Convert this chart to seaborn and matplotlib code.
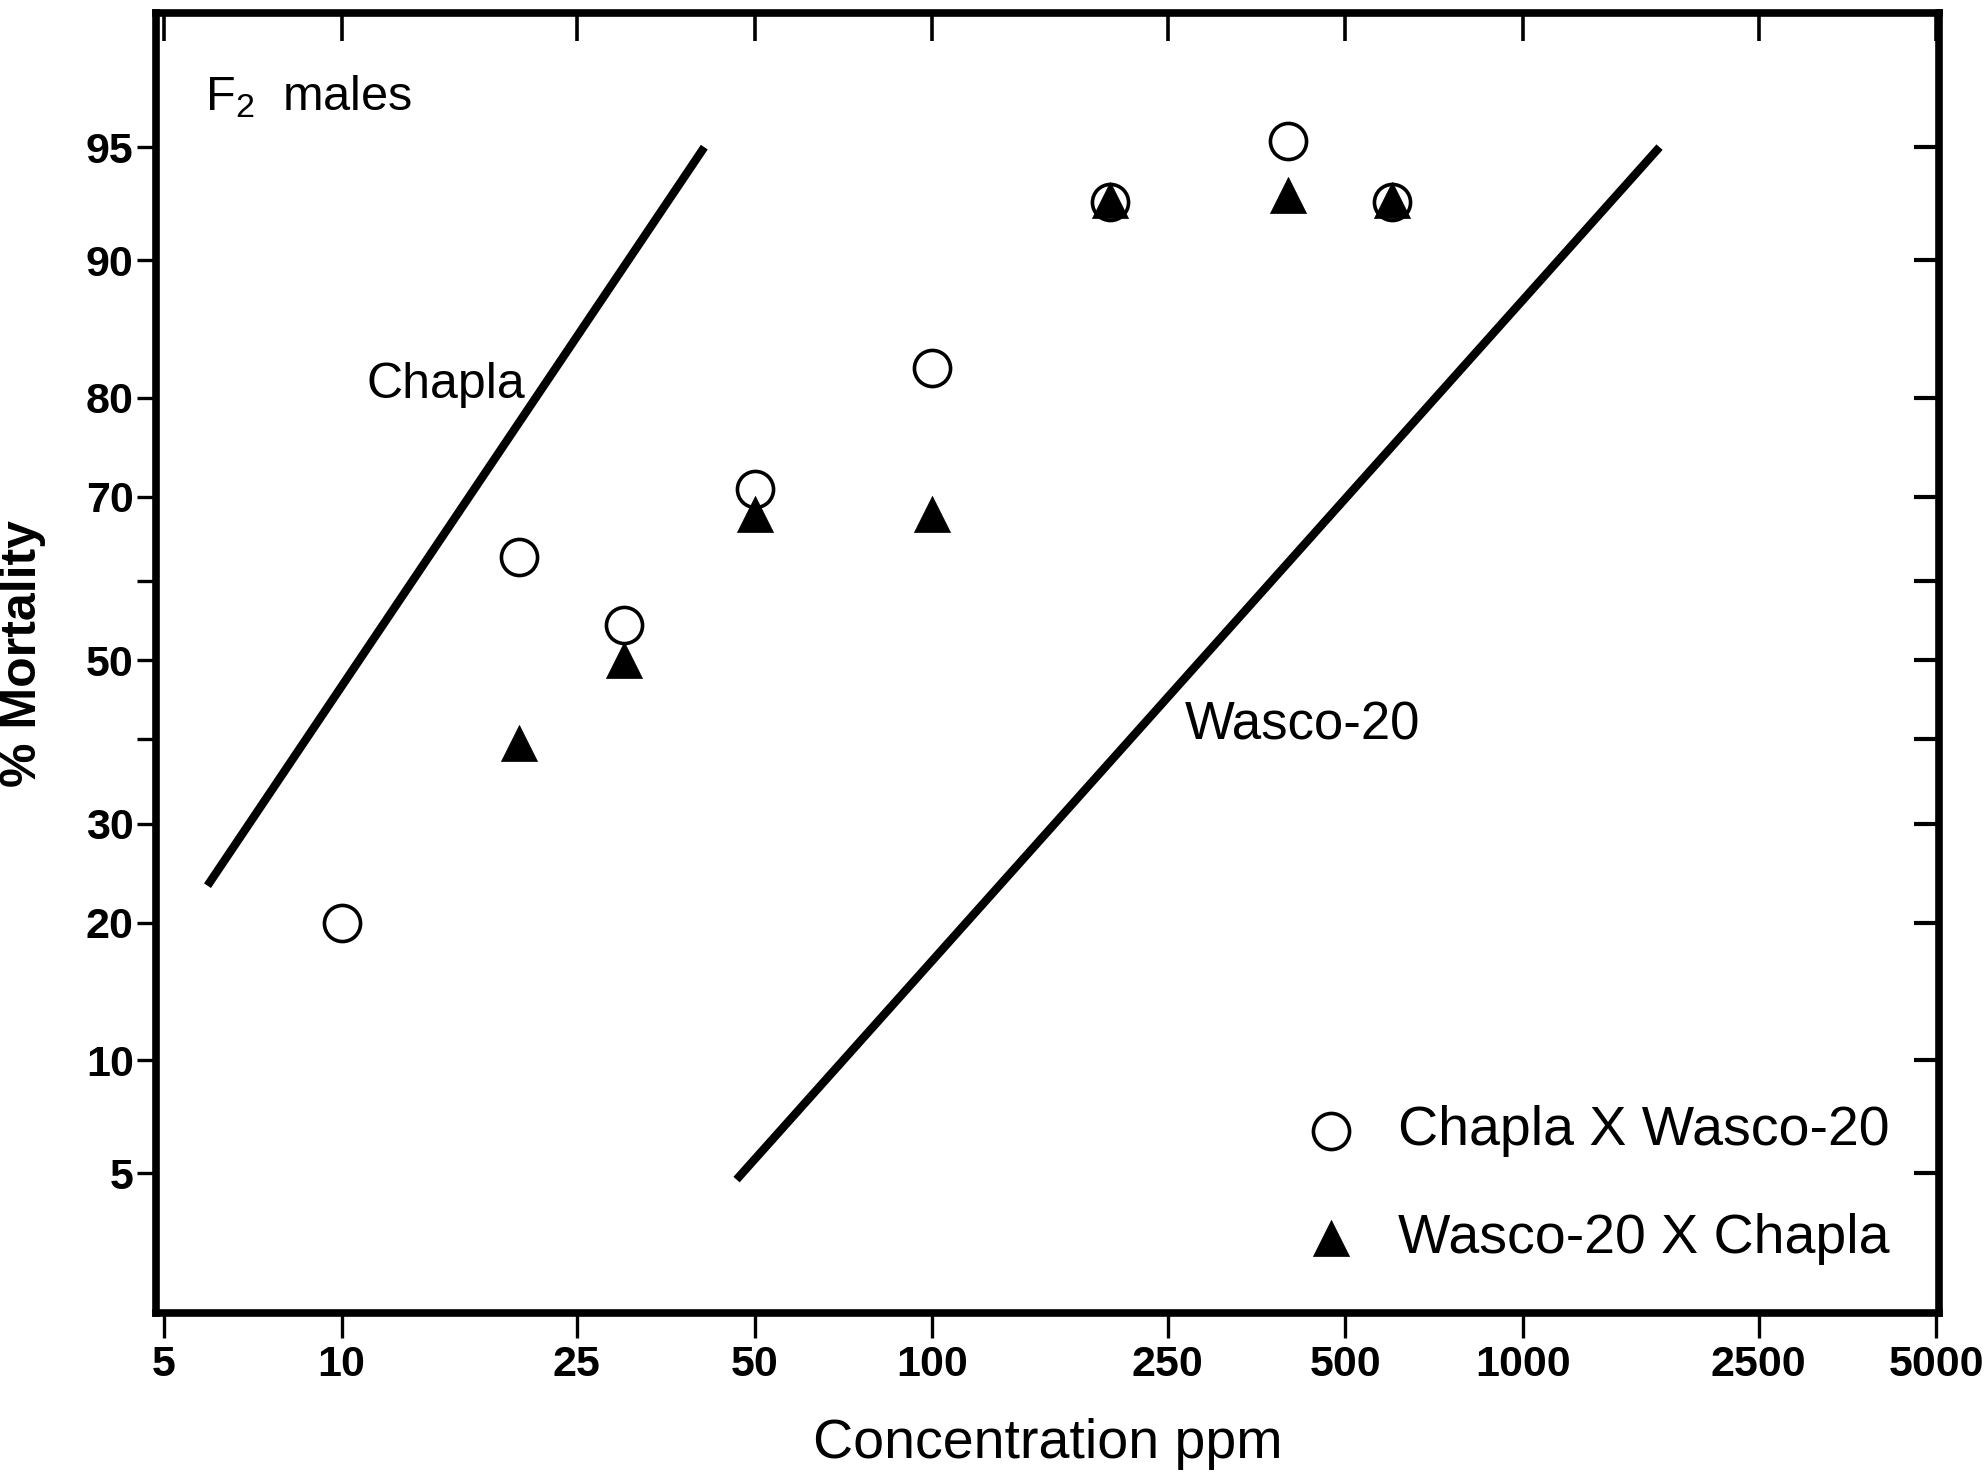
import numpy as np
import matplotlib
matplotlib.use("Agg")
import matplotlib.pyplot as plt
import seaborn as sns
from statistics import NormalDist
from matplotlib.ticker import NullLocator, FixedFormatter, FixedLocator

# ---------------- data ----------------
conc_chapla_x_wasco = [10, 20, 30, 50, 100, 200, 400, 600]
mort_chapla_x_wasco = [20, 63, 54.5, 70.8, 82.6, 92.9, 95.2, 92.9]

conc_wasco_x_chapla = [20, 30, 50, 100, 200, 400, 600]
mort_wasco_x_chapla = [39.5, 50, 68, 68, 93.0, 93.2, 93.0]

chapla_line_conc = [5.93, 41.1]
chapla_line_mort = [23.5, 95]
wasco_line_conc = [46.6, 1700]
wasco_line_mort = [4.8, 95]

x_ticks = [5, 10, 25, 50, 100, 250, 500, 1000, 2500, 5000]
x_tick_labels = ["5", "10", "25", "50", "100", "250", "500", "1000", "2500", "5000"]
y_ticks = [5, 10, 20, 30, 40, 50, 60, 70, 80, 90, 95]
y_tick_labels = ["5", "10", "20", "30", "", "50", "", "70", "80", "90", "95"]

x_limits = (4.85, 5050)
y_limits = (1.82, 98.1)

# ---------------- probit scale ----------------
_nd = NormalDist()
_ppf = np.vectorize(lambda p: _nd.inv_cdf(p) if np.isfinite(p) else np.nan, otypes=[float])
_cdf = np.vectorize(lambda z: _nd.cdf(z) if not np.isnan(z) else np.nan, otypes=[float])


def to_probit(p):
    p = np.clip(np.asarray(p, dtype=float) / 100.0, 1e-9, 1 - 1e-9)
    return _ppf(p)


def from_probit(z):
    return _cdf(np.asarray(z, dtype=float)) * 100.0


# ---------------- style ----------------
sns.set_style("white")
plt.rcParams["font.family"] = ["Liberation Sans", "DejaVu Sans"]
plt.rcParams["mathtext.default"] = "regular"
for key in ["text.color", "axes.labelcolor", "xtick.color", "ytick.color", "axes.edgecolor"]:
    plt.rcParams[key] = "black"

fig = plt.figure(figsize=(19.86, 14.78), dpi=100)
ax = fig.add_axes([0.0785, 0.1116, 0.8978, 0.8796])

ax.set_xscale("log")
ax.set_yscale("function", functions=(to_probit, from_probit))
ax.set_xlim(*x_limits)
ax.set_ylim(*y_limits)

# fitted lines
ax.plot(chapla_line_conc, chapla_line_mort, color="black", lw=6, solid_capstyle="butt", zorder=2)
ax.plot(wasco_line_conc, wasco_line_mort, color="black", lw=6, solid_capstyle="butt", zorder=2)

# points
sns.scatterplot(x=conc_chapla_x_wasco, y=mort_chapla_x_wasco, marker="o", s=26 ** 2,
                color="white", edgecolor="black", linewidth=2.6,
                label="Chapla X Wasco-20", ax=ax, zorder=3)
sns.scatterplot(x=conc_wasco_x_chapla, y=mort_wasco_x_chapla, marker="^", s=26 ** 2,
                color="black", edgecolor="black", linewidth=0.5,
                label="Wasco-20 X Chapla", ax=ax, zorder=4)

ax.set_xlim(*x_limits)
ax.set_ylim(*y_limits)

# ticks
ax.xaxis.set_major_locator(FixedLocator(x_ticks))
ax.xaxis.set_major_formatter(FixedFormatter(x_tick_labels))
ax.xaxis.set_minor_locator(NullLocator())
ax.yaxis.set_major_locator(FixedLocator(y_ticks))
ax.yaxis.set_major_formatter(FixedFormatter(y_tick_labels))
ax.yaxis.set_minor_locator(NullLocator())
ax.tick_params(axis="x", direction="out", length=18, width=2.4, pad=5,
               labelsize=31, bottom=True, top=False)
ax.tick_params(axis="y", direction="out", length=14, width=2.4, pad=2,
               labelsize=31, left=True, right=False)
for lab in ax.get_xticklabels() + ax.get_yticklabels():
    lab.set_fontweight("bold")

for sp in ax.spines.values():
    sp.set_linewidth(5.5)
    sp.set_color("black")

# inward ticks on top and right
ax_r = ax.twinx()
ax_r.set_yscale("function", functions=(to_probit, from_probit))
ax_r.set_ylim(*y_limits)
ax_r.yaxis.set_major_locator(FixedLocator(y_ticks))
ax_r.yaxis.set_minor_locator(NullLocator())
ax_r.tick_params(axis="y", direction="in", length=18, width=3, labelright=False)
for sp in ax_r.spines.values():
    sp.set_visible(False)

ax_t = ax.twiny()
ax_t.set_xscale("log")
ax_t.set_xlim(*x_limits)
ax_t.xaxis.set_major_locator(FixedLocator(x_ticks))
ax_t.xaxis.set_minor_locator(NullLocator())
ax_t.tick_params(axis="x", direction="in", length=20, width=2.6, labeltop=False)
for sp in ax_t.spines.values():
    sp.set_visible(False)

# labels
ax.set_xlabel("Concentration ppm", fontsize=40, va="center")
ax.xaxis.set_label_coords(0.5, -0.101)
ax.set_ylabel("% Mortality", fontsize=36, fontweight="bold", va="center")
ax.yaxis.set_label_coords(-0.0745, 0.507)

# annotations
ax.text(11.0, 80.0, "Chapla", fontsize=36, ha="left", va="baseline")
ax.text(267, 40.0, "Wasco-20", fontsize=38, ha="left", va="baseline")
ax.text(0.0275, 0.925, "F$_2$  males", transform=ax.transAxes, fontsize=35,
        ha="left", va="baseline")

# legend
leg = ax.legend(loc="lower right", bbox_to_anchor=(0.972, 0.037), frameon=False,
                fontsize=40, handlelength=1.0, handletextpad=0.7, labelspacing=1.0,
                borderpad=0, borderaxespad=0)

fig.savefig("out.png", dpi=100, facecolor="white")
